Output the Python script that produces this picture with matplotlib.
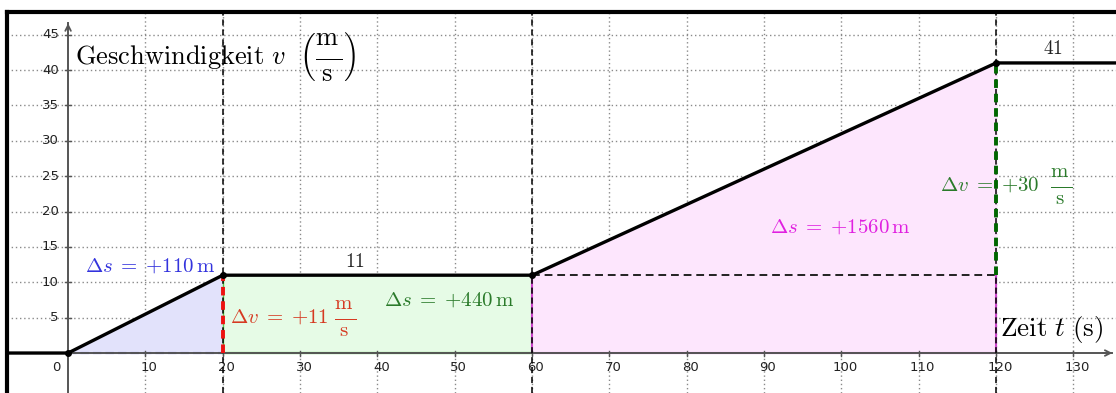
import matplotlib.pyplot as plt

plt.rcParams["mathtext.fontset"] = "cm"

# velocity profile (time in s, velocity in m/s)
t_points = [0, 20, 60, 120]
v_points = [0, 11, 11, 41]
t_min, t_max = -7.9, 135.5

x_ticks = [0, 10, 20, 30, 40, 50, 60, 70, 80, 90, 100, 110, 120, 130]
y_ticks = [5, 10, 15, 20, 25, 30, 35, 40, 45]

# TeX-like display fraction m/s (extra space between parts)
MS = (r"\dfrac{\genfrac{}{}{0}{0}{\mathrm{m}}{\ }}"
      r"{\genfrac{}{}{0}{0}{\ }{\mathrm{s}}}")

fig = plt.figure(figsize=(11.16, 3.93), dpi=100)
ax = fig.add_axes([7 / 1116, 0, 1 - 7 / 1116, (393 - 12) / 393])
ax.set_xlim(t_min, t_max)
ax.set_ylim(-5.65, 48.2)
ax.set_xticks([])
ax.set_yticks([])
for side in ["right", "bottom"]:
    ax.spines[side].set_visible(False)
for side in ["top", "left"]:
    ax.spines[side].set_linewidth(3)
    ax.spines[side].set_color("black")

# grid
grid_style = dict(color="#8a8a8a", lw=1.0, ls=(0, (1, 2)), zorder=1)
for x in x_ticks[1:]:
    ax.axvline(x, **grid_style)
for y in y_ticks:
    ax.axhline(y, **grid_style)

# areas under the curve
ax.fill_between(t_points[0:2], 0, v_points[0:2], color="#e2e2fb", zorder=2)
ax.fill_between(t_points[1:3], 0, v_points[1:3], color="#e6fbe6", zorder=2)
ax.fill_between(t_points[2:4], 0, v_points[2:4], color="#fde6fd", zorder=2)

# area borders
ax.plot(t_points[0:2], [0, 0], color="#3333bb", lw=1.5, ls=(0, (4, 2)), zorder=3)
ax.plot(t_points[1:3], [0, 0], color="#55cc44", lw=1.6, zorder=3)
ax.plot([t_points[1], t_points[1]], [0, v_points[1]], color="#55cc44", lw=1.0, zorder=3)
ax.plot([t_points[2], t_points[2], t_points[3], t_points[3]],
        [v_points[2], 0, 0, v_points[2]], color="#cc44cc", lw=1.5, zorder=3)
ax.plot(t_points[2:4], [v_points[2], v_points[2]], color="#222222", lw=1.4,
        ls=(0, (4, 2.5)), zorder=4)

# velocity changes
ax.plot([t_points[1], t_points[1]], [0, v_points[1]], color="#ee1111", lw=2.8,
        ls=(0, (2.2, 1.5)), zorder=5)
ax.plot([t_points[3], t_points[3]], [v_points[2], v_points[3]], color="#006600", lw=2.8,
        ls=(0, (2.2, 1.5)), zorder=5)

# vertical dashed markers
for x in t_points[1:]:
    ax.axvline(x, color="black", lw=1.1, ls=(0, (4, 2.5)), zorder=4)

# coordinate axes
ax.plot([0, 0], [-5.65, 46.6], color="#555555", lw=1.4, zorder=3)
ax.plot([t_min, 135.0], [0, 0], color="#555555", lw=1.4, zorder=3)
ax.annotate("", xy=(0, 47.0), xytext=(0, 45.5),
            arrowprops=dict(arrowstyle="->", color="#555555", lw=1.3), zorder=3)
ax.annotate("", xy=(135.4, 0), xytext=(133.5, 0),
            arrowprops=dict(arrowstyle="->", color="#555555", lw=1.3), zorder=3)

for x in x_ticks[1:]:
    ax.plot([x, x], [-0.35, 0.35], color="#555555", lw=1.0, zorder=3)
    ax.text(x + 0.5, -2.0, str(x), ha="center", va="center", fontsize=9.5, color="#222222")
ax.text(-1.5, -2.0, "0", ha="center", va="center", fontsize=9.5, color="#222222")
for y in y_ticks:
    ax.plot([-0.4, 0.4], [y, y], color="#555555", lw=1.0, zorder=3)
    ax.text(-1.2, y, str(y), ha="right", va="center", fontsize=9.5, color="#222222")

# velocity curve
curve_t = [t_min] + t_points + [t_max]
curve_v = [v_points[0]] + v_points + [v_points[-1]]
ax.plot(curve_t, curve_v, color="black", lw=2.4, zorder=6, solid_capstyle="butt")
ax.plot(t_points, v_points, "o", color="black", ms=4, zorder=7)

# labels
ax.text(0.9, 41.8, r"$\mathrm{Geschwindigkeit}\ v\ \ \left(" + MS + r"\right)$",
        fontsize=19, ha="left", va="center", zorder=8)
ax.text(120.5, 3.3, r"$\mathrm{Zeit}\ t\ \mathrm{(s)}$", fontsize=19.5, ha="left",
        va="center", zorder=8)
ax.text(37.1, 12.9, r"$11$", fontsize=14, ha="center", va="center", color="#222222", zorder=8)
ax.text(127.4, 43.1, r"$41$", fontsize=14, ha="center", va="center", color="#222222", zorder=8)
ax.text(10.6, 12.4, r"$\Delta s\;=\;{+}110\,\mathrm{m}$", fontsize=15, ha="center",
        va="center", color="#3333dd", zorder=8)
ax.text(49.3, 7.5, r"$\Delta s\;=\;{+}440\,\mathrm{m}$", fontsize=15, ha="center",
        va="center", color="#2a7a2a", zorder=8)
ax.text(99.8, 17.9, r"$\Delta s\;=\;{+}1560\,\mathrm{m}$", fontsize=15, ha="center",
        va="center", color="#e020e0", zorder=8)
ax.text(20.9, 4.9, r"$\Delta v\;=\;{+}11\ " + MS + r"$", fontsize=15,
        ha="left", va="center", color="#d63a22", zorder=8)
ax.text(112.8, 23.5, r"$\Delta v\;=\;{+}30\ \ " + MS + r"$", fontsize=15,
        ha="left", va="center", color="#2a7a2a", zorder=8)

fig.savefig("out.png", dpi=100)
